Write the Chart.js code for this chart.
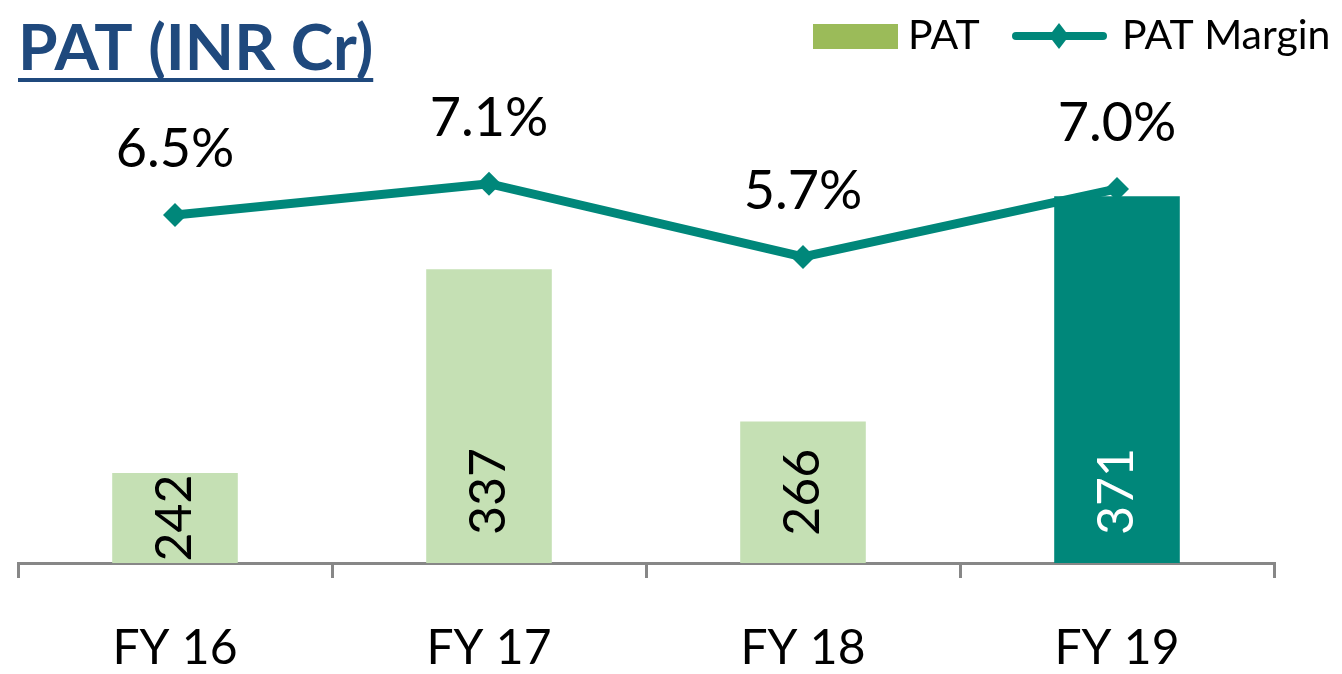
<!DOCTYPE html>
<html>
<head>
<meta charset="utf-8">
<script src="https://cdn.jsdelivr.net/npm/chart.js@4.4.1/dist/chart.umd.min.js"></script>
<style>
  body { margin: 0; background: #fff; }
  #wrap { width: 1342px; height: 674px; }
</style>
</head>
<body>
<div id="wrap"><canvas id="myChart" width="1342" height="674"></canvas></div>
<script>
// chart data
var categories = ['FY 16', 'FY 17', 'FY 18', 'FY 19'];
var patValues = [242, 337, 266, 371];
var patMargin = [6.5, 7.1, 5.7, 7.0];

var lightGreen = '#C5E0B4';
var teal = '#00877A';
var FONT = 'Lato, "Open Sans", sans-serif';

// title, legend and value labels drawn straight on the canvas
var extras = {
    id: 'extras',
    afterDatasetsDraw: function(chart) {
        var ctx = chart.ctx;
        var base = chart.scales.y.bottom;
        ctx.save();
        // bar values, rotated
        var bars = chart.getDatasetMeta(0).data;
        ctx.font = '50px ' + FONT;
        bars.forEach(function(bar, i) {
            var txt = String(patValues[i]);
            var len = ctx.measureText(txt).width;
            var cy = Math.max(base - 28 - len / 2, (bar.y + base) / 2);
            ctx.save();
            ctx.translate(bar.x, cy);
            ctx.rotate(-Math.PI / 2);
            ctx.fillStyle = i === 3 ? '#ffffff' : '#000000';
            ctx.textAlign = 'center';
            ctx.textBaseline = 'middle';
            ctx.fillText(txt, 0, 0);
            ctx.restore();
        });
        // margin labels
        var pts = chart.getDatasetMeta(1).data;
        ctx.font = '54px ' + FONT;
        ctx.fillStyle = '#000000';
        ctx.textAlign = 'center';
        ctx.textBaseline = 'alphabetic';
        pts.forEach(function(p, i) {
            ctx.fillText(patMargin[i].toFixed(1) + '%', p.x, p.y - 48);
        });
        ctx.restore();
    },
    afterDraw: function(chart) {
        var ctx = chart.ctx;
        ctx.save();
        // title
        ctx.font = 'bold 64px ' + FONT;
        ctx.fillStyle = '#1F497D';
        ctx.textBaseline = 'alphabetic';
        ctx.textAlign = 'left';
        var title = 'PAT (INR Cr)';
        ctx.fillText(title, 18, 70);
        ctx.fillRect(18, 78, ctx.measureText(title).width, 4);
        // legend
        ctx.fillStyle = '#9BBB59';
        ctx.fillRect(813, 24, 85, 25);
        ctx.font = '41px ' + FONT;
        ctx.fillStyle = '#000000';
        ctx.fillText('PAT', 908, 49);
        ctx.strokeStyle = teal;
        ctx.lineWidth = 8;
        ctx.lineCap = 'round';
        ctx.beginPath();
        ctx.moveTo(1016, 36);
        ctx.lineTo(1103, 36);
        ctx.stroke();
        ctx.fillStyle = teal;
        ctx.beginPath();
        ctx.moveTo(1059, 23);
        ctx.lineTo(1069, 36);
        ctx.lineTo(1059, 49);
        ctx.lineTo(1049, 36);
        ctx.closePath();
        ctx.fill();
        ctx.fillStyle = '#000000';
        ctx.fillText('PAT Margin', 1122, 49);
        ctx.restore();
    }
};

var ctx = document.getElementById('myChart').getContext('2d');
var chart = new Chart(ctx, {
    type: 'bar',
    data: {
        labels: categories,
        datasets: [{
            label: 'PAT',
            data: patValues,
            backgroundColor: [lightGreen, lightGreen, lightGreen, teal],
            barPercentage: 0.4,
            categoryPercentage: 1.0,
            yAxisID: 'y',
            order: 1
        }, {
            type: 'line',
            label: 'PAT Margin',
            data: patMargin,
            borderColor: teal,
            backgroundColor: teal,
            borderWidth: 9,
            pointStyle: 'rectRot',
            pointRadius: 12,
            pointBorderWidth: 0,
            pointBackgroundColor: teal,
            tension: 0,
            yAxisID: 'y2',
            order: 2
        }]
    },
    options: {
        responsive: false,
        animation: false,
        layout: { padding: { left: 18, right: 68, top: 134, bottom: 0 } },
        plugins: {
            legend: { display: false },
            title: { display: false },
            tooltip: { enabled: false }
        },
        scales: {
            x: {
                offset: true,
                afterFit: function(scale) { scale.height = 111; },
                border: { display: true, color: '#878787', width: 3 },
                grid: {
                    display: true,
                    offset: true,
                    drawOnChartArea: false,
                    drawTicks: true,
                    tickLength: 15,
                    color: '#878787',
                    lineWidth: 3
                },
                ticks: {
                    color: '#000000',
                    font: { family: FONT, size: 48 },
                    padding: 42,
                    maxRotation: 0
                }
            },
            y: { display: false, min: 200, max: 400 },
            y2: { display: false, min: -0.15, max: 8.05 }
        }
    },
    plugins: [extras]
});
</script>
</body>
</html>
